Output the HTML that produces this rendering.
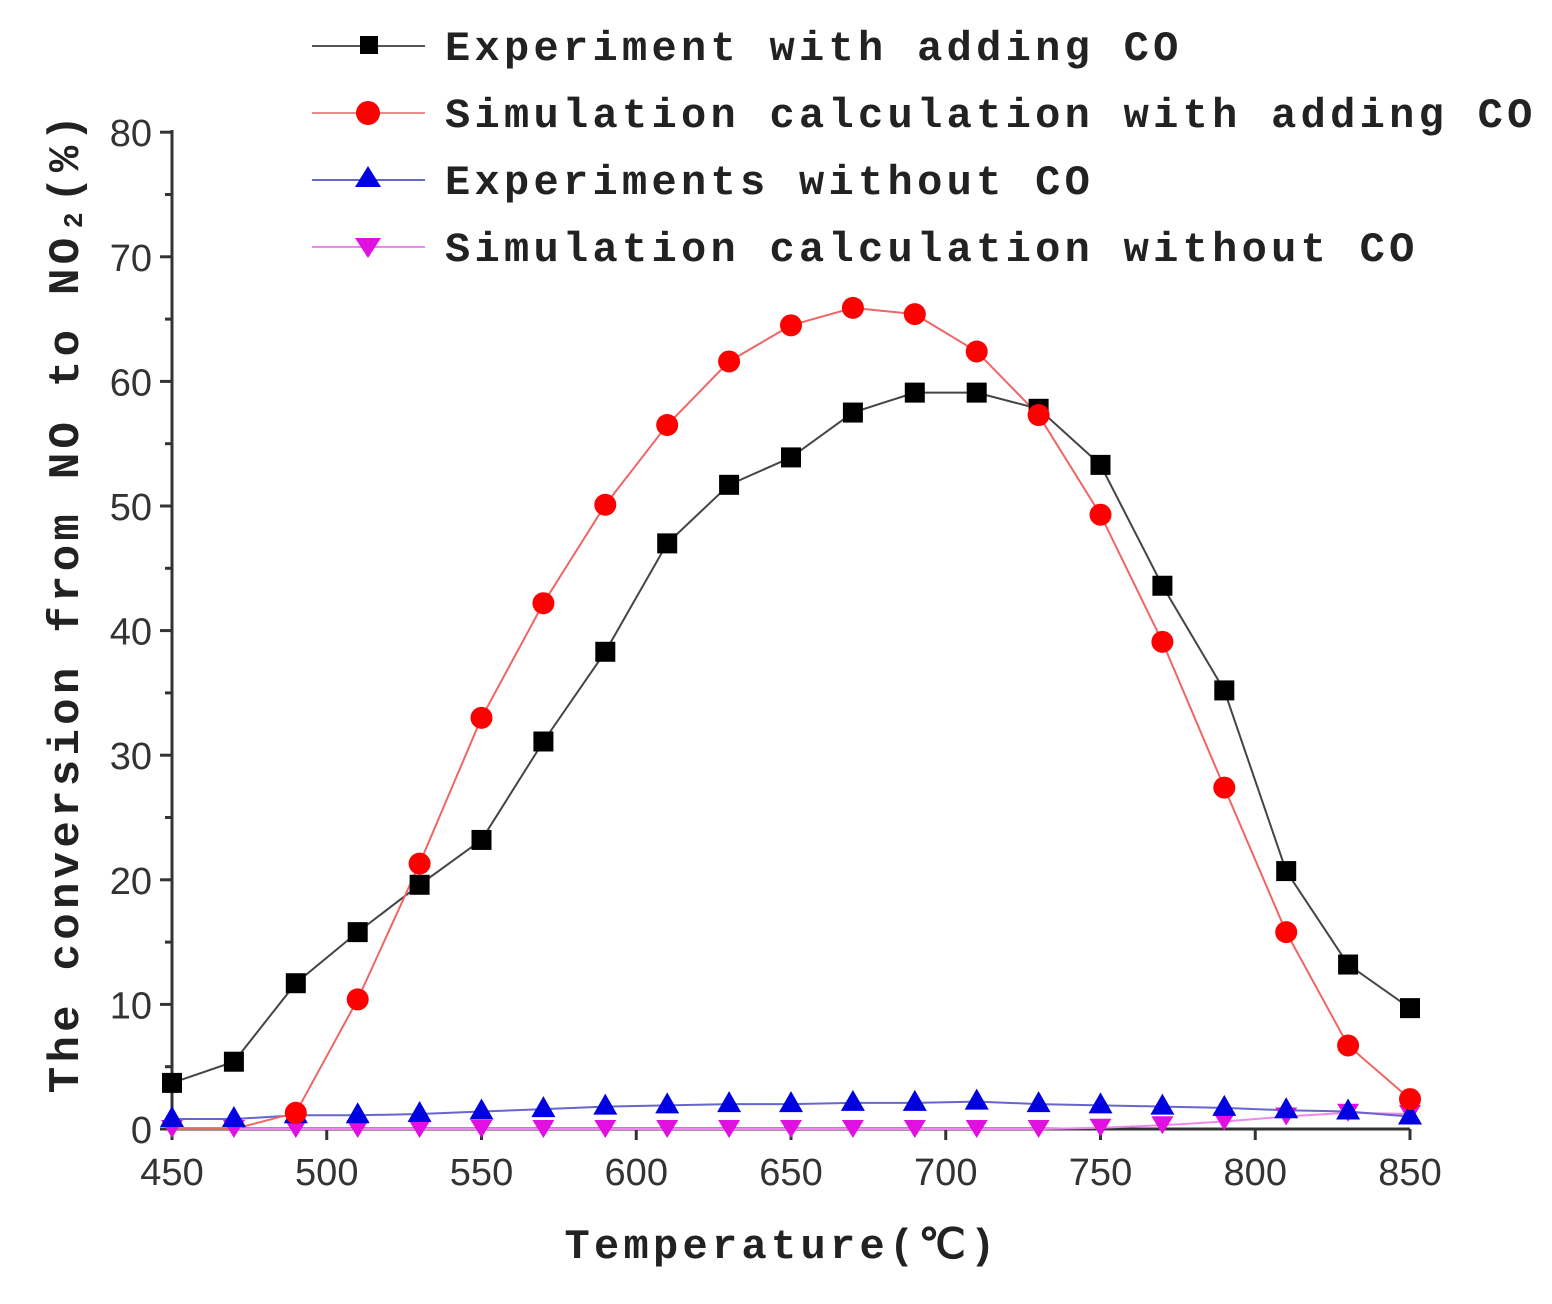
<!DOCTYPE html>
<html><head><style>
body{margin:0;background:#fff;}
svg text{font-family:"Liberation Sans",sans-serif;}
.leg{font-family:"Liberation Mono",monospace;font-weight:bold;font-size:42px;fill:#222;letter-spacing:4.3px;}
.tk{font-size:38px;fill:#333;}
</style></head><body>
<svg width="1552" height="1299" viewBox="0 0 1552 1299" xmlns="http://www.w3.org/2000/svg">
<g stroke="#333" stroke-width="3" fill="none">
<line x1="172" y1="1129" x2="1410" y2="1129"/>
<line x1="172" y1="130" x2="172" y2="1129"/>
</g>
<g id="ticks" stroke="#333" stroke-width="3"></g>
<g id="labels"></g>
<g id="series"></g>
<text class="leg" x="0" y="0" transform="translate(78,602) rotate(-90)" text-anchor="middle" style="font-size:44px">The conversion from NO to NO₂(%)</text>
<text class="leg" x="782" y="1258" text-anchor="middle">Temperature(℃)</text>
<g>
<line x1="312" y1="46" x2="425" y2="46" stroke="#555" stroke-width="2"/><rect x="360" y="36" width="18" height="18" fill="#000"/>
<text class="leg" x="445" y="60">Experiment with adding CO</text>
<line x1="312" y1="113" x2="425" y2="113" stroke="#e88" stroke-width="2"/><circle cx="368" cy="113" r="12" fill="#f00"/>
<text class="leg" x="445" y="127">Simulation calculation with adding CO</text>
<line x1="312" y1="180" x2="425" y2="180" stroke="#66c" stroke-width="2"/><polygon points="368,166 381,187 355,187" fill="#0000e0"/>
<text class="leg" x="445" y="194">Experiments without CO</text>
<line x1="312" y1="247" x2="425" y2="247" stroke="#e8e" stroke-width="2"/><polygon points="355,238 381,238 368,258" fill="#e010e0"/>
<text class="leg" x="445" y="261">Simulation calculation without CO</text>
</g>
</svg>
<script>
const NS="http://www.w3.org/2000/svg";
const X=t=>172+(t-450)*3.095, Y=v=>1129-v*12.46;
const tk=document.getElementById('ticks'), lb=document.getElementById('labels'), se=document.getElementById('series');
function el(p,tag,a,txt){const e=document.createElementNS(NS,tag);for(const k in a)e.setAttribute(k,a[k]);if(txt!=null)e.textContent=txt;p.appendChild(e);return e;}
for(let v=0;v<=80;v+=10){el(tk,'line',{x1:160,x2:172,y1:Y(v),y2:Y(v)});el(lb,'text',{class:'tk',x:152,y:Y(v)+14,'text-anchor':'end'},v);}
for(let v=5;v<80;v+=10){el(tk,'line',{x1:165,x2:172,y1:Y(v),y2:Y(v)});}
for(let t=450;t<=850;t+=50){el(tk,'line',{x1:X(t),x2:X(t),y1:1129,y2:1140});el(lb,'text',{class:'tk',x:X(t),y:1185,'text-anchor':'middle'},t);}
const T=[];for(let t=450;t<=850;t+=20)T.push(t);
const black=[3.7,5.4,11.7,15.8,19.6,23.2,31.1,38.3,47,51.7,53.9,57.5,59.1,59.1,57.8,53.3,43.6,35.2,20.7,13.2,9.7];
const red=[0,0,1.3,10.4,21.3,33,42.2,50.1,56.5,61.6,64.5,65.9,65.4,62.4,57.3,49.3,39.1,27.4,15.8,6.7,2.4];
const blue=[0.8,0.8,1.1,1.1,1.2,1.4,1.6,1.8,1.9,2,2,2.1,2.1,2.2,2,1.9,1.8,1.7,1.5,1.4,1.0];
const mag=[0,0,0,0,0,0,0,0,0,0,0,0,0,0,0,0.1,0.3,0.6,1.0,1.3,1.2];
function line(d,c){let p=d.map((v,i)=>X(T[i])+','+Y(v)).join(' ');el(se,'polyline',{points:p,fill:'none',stroke:c,'stroke-width':2});}
line(mag,'#e8e');line(blue,'#66c');line(black,'#444');line(red,'#e66');
mag.forEach((v,i)=>{const x=X(T[i]),y=Y(v);el(se,'polygon',{points:`${x-11},${y-9} ${x+11},${y-9} ${x},${y+9}`,fill:'#e010e0'});});
blue.forEach((v,i)=>{const x=X(T[i]),y=Y(v);el(se,'polygon',{points:`${x},${y-13} ${x+12},${y+8} ${x-12},${y+8}`,fill:'#0000e0'});});
black.forEach((v,i)=>{el(se,'rect',{x:X(T[i])-10,y:Y(v)-10,width:20,height:20,fill:'#000'});});
red.forEach((v,i)=>{if(i<2)return;el(se,'circle',{cx:X(T[i]),cy:Y(v),r:11,fill:'#f00'});});
</script>
</body></html>
